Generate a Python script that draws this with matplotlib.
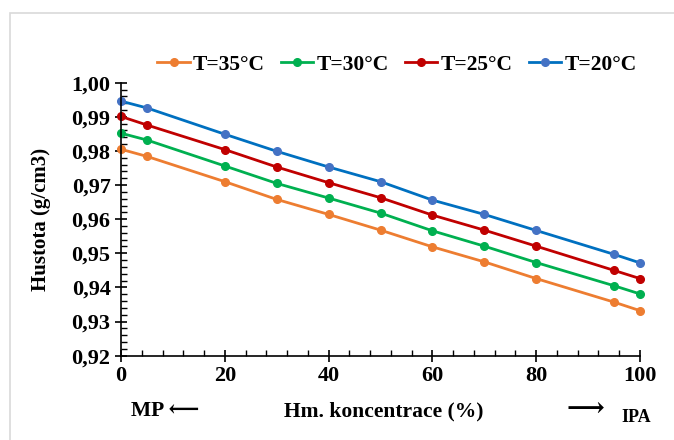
import matplotlib
matplotlib.use("Agg")
import matplotlib.pyplot as plt
from matplotlib.ticker import MultipleLocator, FuncFormatter
from matplotlib.patches import Rectangle

plt.rcParams['font.family'] = ['Liberation Serif', 'DejaVu Serif']
plt.rcParams['font.weight'] = 'bold'

# hmotnostni koncentrace IPA (%)
conc = [0, 5, 20, 30, 40, 50, 60, 70, 80, 95, 100]

# hustota (g/cm3) pro jednotlive teploty
rho_35 = [0.9805, 0.9784, 0.9710, 0.9658, 0.9614, 0.9568, 0.9519, 0.9475, 0.9426, 0.9357, 0.9332]
rho_30 = [0.9852, 0.9832, 0.9756, 0.9705, 0.9662, 0.9618, 0.9566, 0.9521, 0.9473, 0.9405, 0.9381]
rho_25 = [0.9901, 0.9876, 0.9804, 0.9753, 0.9707, 0.9663, 0.9612, 0.9568, 0.9521, 0.9450, 0.9426]
rho_20 = [0.9946, 0.9926, 0.9849, 0.9799, 0.9753, 0.9710, 0.9656, 0.9614, 0.9567, 0.9497, 0.9472]

labels = ['T=35°C', 'T=30°C', 'T=25°C', 'T=20°C']
series = [rho_35, rho_30, rho_25, rho_20]
line_colors = ['#ED7D31', '#00B050', '#C00000', '#0070C0']
marker_colors = ['#ED7D31', '#00B050', '#C00000', '#4472C4']

fig = plt.figure(figsize=(6.74, 4.40), dpi=100)
ax = fig.add_axes([121 / 674, 1 - 355.7 / 440, (640 - 121) / 674, (355.7 - 82.7) / 440])

# svetle sedy ramecek grafu (orezany vpravo a dole)
fig.patches.append(Rectangle((10 / 674, -0.1), 1.1, 1 - 13 / 440 + 0.1,
                             transform=fig.transFigure, fill=False,
                             edgecolor='#D9D9D9', linewidth=1.2))

for ys, lab, lc, mc in zip(series, labels, line_colors, marker_colors):
    ax.plot(conc, ys, color=lc, linewidth=2.0, marker='o', markersize=5.5,
            markerfacecolor=mc, markeredgecolor=mc, label=lab, clip_on=False)

ax.set_xlim(0, 100)
ax.set_ylim(0.92, 1.00)
ax.xaxis.set_major_locator(MultipleLocator(20))
ax.xaxis.set_minor_locator(MultipleLocator(4))
ax.yaxis.set_major_locator(MultipleLocator(0.01))
ax.yaxis.set_minor_locator(MultipleLocator(0.002))
ax.yaxis.set_major_formatter(FuncFormatter(lambda v, p: f'{v:.2f}'.replace('.', ',')))

ax.spines['top'].set_visible(False)
ax.spines['right'].set_visible(False)
for s in ('left', 'bottom'):
    ax.spines[s].set_linewidth(1.2)

ax.tick_params(which='major', direction='inout', length=9, width=1.2, labelsize=16, pad=3)
ax.tick_params(which='minor', direction='in', length=4, width=1)
for t in ax.get_xticklabels() + ax.get_yticklabels():
    t.set_fontweight('bold')

ax.set_ylabel('Hustota (g/cm3)', fontsize=15, fontweight='bold', labelpad=15)

fig.text(131 / 674, 1 - 411 / 440, 'MP \u27f5', fontsize=15.5, fontweight='bold',
         ha='left', va='center')
fig.text(384 / 674, 1 - 411 / 440, 'Hm. koncentrace (%)', fontsize=15.5, fontweight='bold',
         ha='center', va='center')
fig.text(566 / 674, 1 - 410 / 440, '\u27f6', fontsize=19, fontweight='bold',
         ha='left', va='center')
fig.text(621 / 674, 1 - 417 / 440, 'IPA', fontsize=13, fontweight='bold',
         ha='left', va='center')

leg = fig.legend(loc='center', bbox_to_anchor=(397 / 674, 1 - 65 / 440), ncol=4,
                 frameon=False, handlelength=1.5, handletextpad=0.15,
                 columnspacing=0.75, prop={'weight': 'bold', 'size': 15.5})

fig.savefig('out.png', dpi=100)
